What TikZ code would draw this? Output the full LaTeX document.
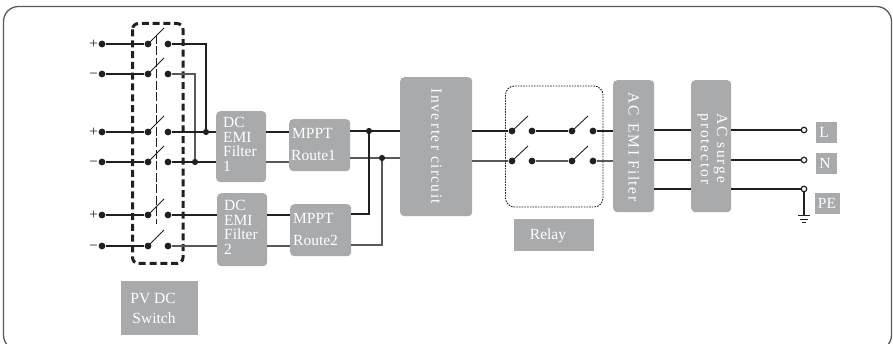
\documentclass[tikz,border=0pt]{standalone}
\usepackage{fontspec}
\setmainfont{Liberation Serif}
\definecolor{blockgray}{HTML}{A9AAAC}
\definecolor{wire}{HTML}{231F20}
\definecolor{wiregray}{HTML}{58595B}
\tikzset{
  x=1pt,y=-1pt,
  block/.style={fill=blockgray,draw=none,rounded corners=4pt,text=white,inner sep=0pt},
  label box/.style={fill=blockgray,draw=none,text=white,inner sep=0pt},
  pin/.style={circle,fill=wire,draw=none,minimum size=6.8pt,inner sep=0pt},
  smallpin/.style={circle,fill=wire,draw=none,minimum size=6.2pt,inner sep=0pt},
  openpin/.style={circle,fill=white,draw=wire,line width=1.2pt,minimum size=5.5pt,inner sep=0pt},
  wireline/.style={wire,line width=1.1pt},
  grayline/.style={wiregray,line width=1.3pt},
  thickline/.style={wire,line width=2pt},
  arm/.style={wire,line width=0.9pt},
  btext/.style={font=\fontsize{15.5}{14.6}\selectfont,text=white,inner sep=0pt},
  sign/.style={font=\fontsize{15}{15}\selectfont,text=wire,inner sep=0pt},
}
\newcommand{\gridblock}[6]{% name x1 y1 x2 y2 style
  \node[#6,minimum width=#4pt-#2pt,minimum height=#5pt-#3pt,anchor=north west] (#1) at (#2,#3) {};}
\begin{document}
\begin{tikzpicture}
\useasboundingbox (0,0) rectangle (893,344);
\draw[wiregray,line width=1.3pt,rounded corners=15pt] (3.5,6.5) rectangle (891.5,350);

% blocks
\gridblock{dc1}{216}{111}{266}{182}{block}
\gridblock{dc2}{217}{193}{267}{266}{block}
\gridblock{mp1}{289}{119}{350}{171}{block}
\gridblock{mp2}{290}{204}{351}{256}{block}
\gridblock{inv}{400}{77}{472}{216}{block}
\gridblock{acf}{613}{80}{654}{212}{block}
\gridblock{acs}{691}{80}{731}{212}{block}
\gridblock{pvb}{121}{281}{198}{335}{label box}
\gridblock{rel}{514}{219}{594}{251}{label box}
\gridblock{lb}{816}{122}{837}{143}{label box}
\gridblock{nb}{816}{153}{837}{174}{label box}
\gridblock{pb}{815}{193}{840}{214}{label box}

% block texts
\node[btext,align=left,anchor=north west] (dc1t) at (223,117) {DC\\EMI\\Filter\\1};
\node[btext,align=left,anchor=north west] (dc2t) at (224,200) {DC\\EMI\\Filter\\2};
\node[btext,anchor=west] (m1a) at (292,133) {MPPT};
\node[btext,anchor=west] (m1b) at (291,155) {Route1};
\node[btext,anchor=west] (m2a) at (293,218) {MPPT};
\node[btext,anchor=west] (m2b) at (293,240) {Route2};
\node[btext,rotate=-90] (invt) at (436.5,146.5) {\addfontfeature{LetterSpace=9}Inve\kern3pt rte\kern3pt r circuit};
\node[btext,rotate=-90] (acft) at (634,147) {\addfontfeature{LetterSpace=9}AC\kern3pt{} EMI F\kern1.5pt ilte\kern1.5pt r};
\node[btext,rotate=-90] (acst1) at (720.5,148) {\addfontfeature{LetterSpace=12}AC surge};
\node[btext,rotate=-90] (acst2) at (703.5,149) {\addfontfeature{LetterSpace=12}protector};
\node[btext] (pvt1) at (153,298) {PV DC};
\node[btext] (pvt2) at (154,318) {Switch};
\node[btext] (relt) at (548,236) {Relay};
\node[btext] (lt) at (824,132.5) {L};
\node[btext] (nt) at (825,163) {N};
\node[btext] (pt) at (827,203.5) {PE};

% DC switch inputs
\foreach \n/\y in {1/44,2/74,3/132,4/162,5/215,6/246}{
  \node[pin] (a\n) at (102,\y) {};
  \node[pin] (b\n) at (148,\y) {};
  \node[pin] (c\n) at (168,\y) {};
  \coordinate (t\n) at (164,\y-16);
  \draw[wireline] (a\n) -- (b\n);
  \draw[arm] (b\n.center) -- (t\n);
}
\foreach \n/\y in {1/44,3/132,5/215}{
  \node[sign] (sg\n) at (93.5,\y+.3) {+};
}
\foreach \n/\y in {2/74,4/162,6/246}{
  \node[sign] (sg\n) at (93.5,\y+2) {−};
}

% ganged dashed line and PV box
\coordinate (g1) at (156,35); \coordinate (g2) at (156,224);
\draw[wire,line width=.8pt,dash pattern=on 9pt off 2.5pt] (g1) -- (g2);
\draw[wire,line width=3pt,dash pattern=on 7pt off 3.8pt,rounded corners=6pt] (132.5,23.5) rectangle (183,263.5);

% junctions on DC side
\node[smallpin] (j1) at (206,132) {};
\node[smallpin] (j2) at (195,162) {};
\draw[wireline] (c1) -| (j1);
\draw[grayline] (c2) -| (j2);
\draw[wireline] (c3) -- (j1) -- (dc1.west |- j1);
\draw[wireline] (c4) -- (j2) -- (dc1.west |- j2);
\draw[wireline] (c5) -- (dc2.west |- c5);
\draw[wireline,wiregray] (c6) -- (dc2.west |- c6);

% DC filter -> MPPT
\draw[wireline] (dc1.east |- j1) -- (mp1.west |- j1);
\draw[grayline] (dc1.east |- j2) -- (mp1.west |- j2);
\coordinate (w5) at (dc2.east |- c5);
\coordinate (w6) at (dc2.east |- c6);
\draw[wireline] (w5) -- (mp2.west |- w5);
\draw[grayline] (w6) -- (mp2.west |- w6);

% MPPT -> inverter
\node[smallpin] (j3) at (369,131) {};
\node[smallpin] (j4) at (382,158) {};
\draw[wireline] (mp1.east |- j3) -- (j3) -- (inv.west |- j3);
\draw[grayline] (mp1.east |- j4) -- (j4) -- (inv.west |- j4);
\coordinate (w7) at (mp2.east |- 0,214);
\coordinate (w8) at (mp2.east |- 0,245);
\draw[wireline] (w7) -| (j3);
\draw[grayline] (w8) -| (j4);

% Relay
\foreach \n/\y in {1/131,2/161}{
  \node[pin] (r\n a) at (512,\y) {};
  \node[pin] (r\n b) at (532,\y) {};
  \node[pin] (r\n c) at (572,\y) {};
  \node[pin] (r\n d) at (593,\y) {};
  \coordinate (ru\n) at (528,\y-15);
  \coordinate (rv\n) at (588,\y-15);
  \draw[arm] (r\n a.center) -- (ru\n);
  \draw[arm] (r\n c.center) -- (rv\n);
}
\draw[wireline] (inv.east |- r1a) -- (r1a);
\draw[grayline] (inv.east |- r2a) -- (r2a);
\draw[wireline] (r1b) -- (r1c);
\draw[grayline] (r2b) -- (r2c);
\draw[wireline] (r1d) -- (acf.west |- r1d);
\draw[grayline] (r2d) -- (acf.west |- r2d);
\draw[wire,line width=.9pt,dash pattern=on 1.6pt off 1.1pt,rounded corners=9pt] (505.5,86) rectangle (603,207);

% AC output
\node[openpin] (oL) at (804,130) {};
\node[openpin] (oN) at (804,160) {};
\node[openpin] (oP) at (804,189) {};
\draw[thickline] (acf.east |- oL) -- (acs.west |- oL);
\draw[thickline] (acf.east |- oN) -- (acs.west |- oN);
\draw[thickline] (acf.east |- oP) -- (acs.west |- oP);
\draw[thickline] (acs.east |- oL) -- (oL);
\draw[thickline] (acs.east |- oN) -- (oN);
\draw[thickline] (acs.east |- oP) -- (oP);

% ground
\coordinate (g0) at (804,215);
\draw[wire,line width=1.3pt] (oP) -- (g0);
\draw[wire,line width=.9pt] (798,215) -- (810,215);
\draw[wire,line width=.9pt] (800,219) -- (808,219);
\draw[wire,line width=.9pt] (802,222.5) -- (806,222.5);
\end{tikzpicture}
\end{document}
